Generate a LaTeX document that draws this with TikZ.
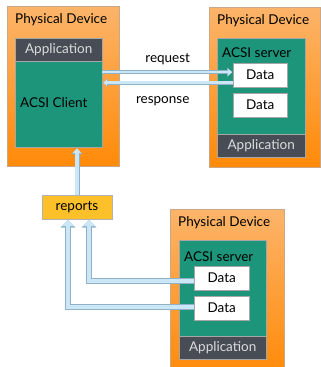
\documentclass[tikz,border=0pt]{standalone}
\usepackage{fontspec}
\setmainfont{Lato}
\usetikzlibrary{arrows.meta, positioning}

\definecolor{devtop}{HTML}{FCB46A}
\definecolor{devbottom}{HTML}{FF8A08}
\definecolor{devedge}{HTML}{C8A888}
\definecolor{acsigreen}{HTML}{1C957A}
\definecolor{appgray}{HTML}{484D55}
\definecolor{apptext}{HTML}{DADCDE}
\definecolor{reportfill}{HTML}{FBC02A}
\definecolor{pipefill}{HTML}{CBE6F7}
\definecolor{pipeedge}{HTML}{8FB2C8}

\begin{document}
\begin{tikzpicture}[
  x=1pt, y=-1pt,
  font=\fontsize{13.5}{16}\selectfont,
  device/.style={rectangle, draw=devedge, top color=devtop, bottom color=devbottom, anchor=north west, inner sep=0pt},
  acsi/.style={rectangle, draw=gray!70, fill=acsigreen, anchor=north west, inner sep=0pt},
  app/.style={rectangle, draw=gray!70, fill=appgray, text=apptext, inner sep=0pt, minimum width=87pt, minimum height=23pt},
  data/.style={rectangle, draw=gray!70, fill=white, anchor=north west, inner sep=0pt, minimum width=54pt, minimum height=24pt},
  title/.style={anchor=west, inner sep=0pt},
  report/.style={rectangle, draw=gray!60, fill=reportfill, inner sep=0pt, minimum width=70pt, minimum height=24pt},
  pipe/.style={line width=4pt, draw=pipefill, shorten >=1pt, -{Triangle[length=6pt, width=12pt, fill=pipefill]},
    preaction={draw=pipeedge, line width=5.5pt, -{Triangle[length=7.5pt, width=14.5pt, fill=pipeedge]}}},
  midpipe/.style={line width=3.5pt, draw=pipefill, shorten >=1pt, -{Triangle[length=4.8pt, width=9pt, fill=pipefill]},
    preaction={draw=pipeedge, line width=5pt, -{Triangle[length=6pt, width=11pt, fill=pipeedge]}}},
  thinpipe/.style={line width=2.5pt, draw=pipefill, shorten >=0.8pt, -{Triangle[length=4pt, width=6.5pt, fill=pipefill]},
    preaction={draw=pipeedge, line width=3.8pt, -{Triangle[length=5pt, width=8.5pt, fill=pipeedge]}}}
  ]

\useasboundingbox (0,0) rectangle (321,367);
\clip (0,0) rectangle (321,367);

\node[device, minimum width=112pt, minimum height=160pt] (dev1) at (7,6) {};
\node[title, right=8pt of dev1.north west, yshift=-14pt] (dev1title) {Physical Device};
\node[acsi, minimum width=87pt, minimum height=109pt] (client) at (15,38) {};
\node[app, anchor=north west] (app1) at (client.north west) {Application};
\node[title, right=5pt of client.west, yshift=-9.5pt] (clienttitle) {ACSI Client};

\node[device, minimum width=111pt, minimum height=160pt] (dev2) at (209,7) {};
\node[title, right=8pt of dev2.north west, yshift=-14pt] (dev2title) {Physical Device};
\node[acsi, minimum width=88pt, minimum height=119pt] (server2) at (217,38) {};
\node[app, minimum width=88pt, anchor=south west] (app2) at (server2.south west) {Application};
\node[title, right=5pt of server2.north west, yshift=-15pt] (server2title) {ACSI server};
\node[data] (data21) at (233,63) {Data};
\node[data] (data22) at (233,93) {Data};

\node[report] (reports) at (77,207) {reports};

\node[device, minimum width=114pt, minimum height=165pt] (dev3) at (170,209) {};
\node[title, right=8pt of dev3.north west, yshift=-14pt] (dev3title) {Physical Device};
\node[acsi, minimum width=87pt, minimum height=119pt] (server3) at (179,240) {};
\node[app, anchor=south west] (app3) at (server3.south west) {Application};
\node[title, right=5pt of server3.north west, yshift=-17pt] (server3title) {ACSI server};
\node[data, minimum width=55pt] (data31) at (194,266) {Data};
\node[data, minimum width=55pt] (data32) at (194,296) {Data};

\coordinate (reqend) at ([yshift=3pt]data21.west);
\coordinate (respstart) at ([yshift=-7.5pt]data21.west);

\draw[thinpipe] (client.east |- reqend) -- node[above=3pt] {request} (reqend);
\draw[thinpipe] (respstart) -- node[below=9pt, xshift=-5pt] {response} (client.east |- respstart);
\draw[midpipe] (reports.north) -- (reports.north |- client.south);
\draw[pipe] ([yshift=-3pt]data31.west) -| ([xshift=12pt]reports.south);
\draw[pipe] ([yshift=1pt]data32.west) -| ([xshift=-9pt]reports.south);

\end{tikzpicture}
\end{document}
